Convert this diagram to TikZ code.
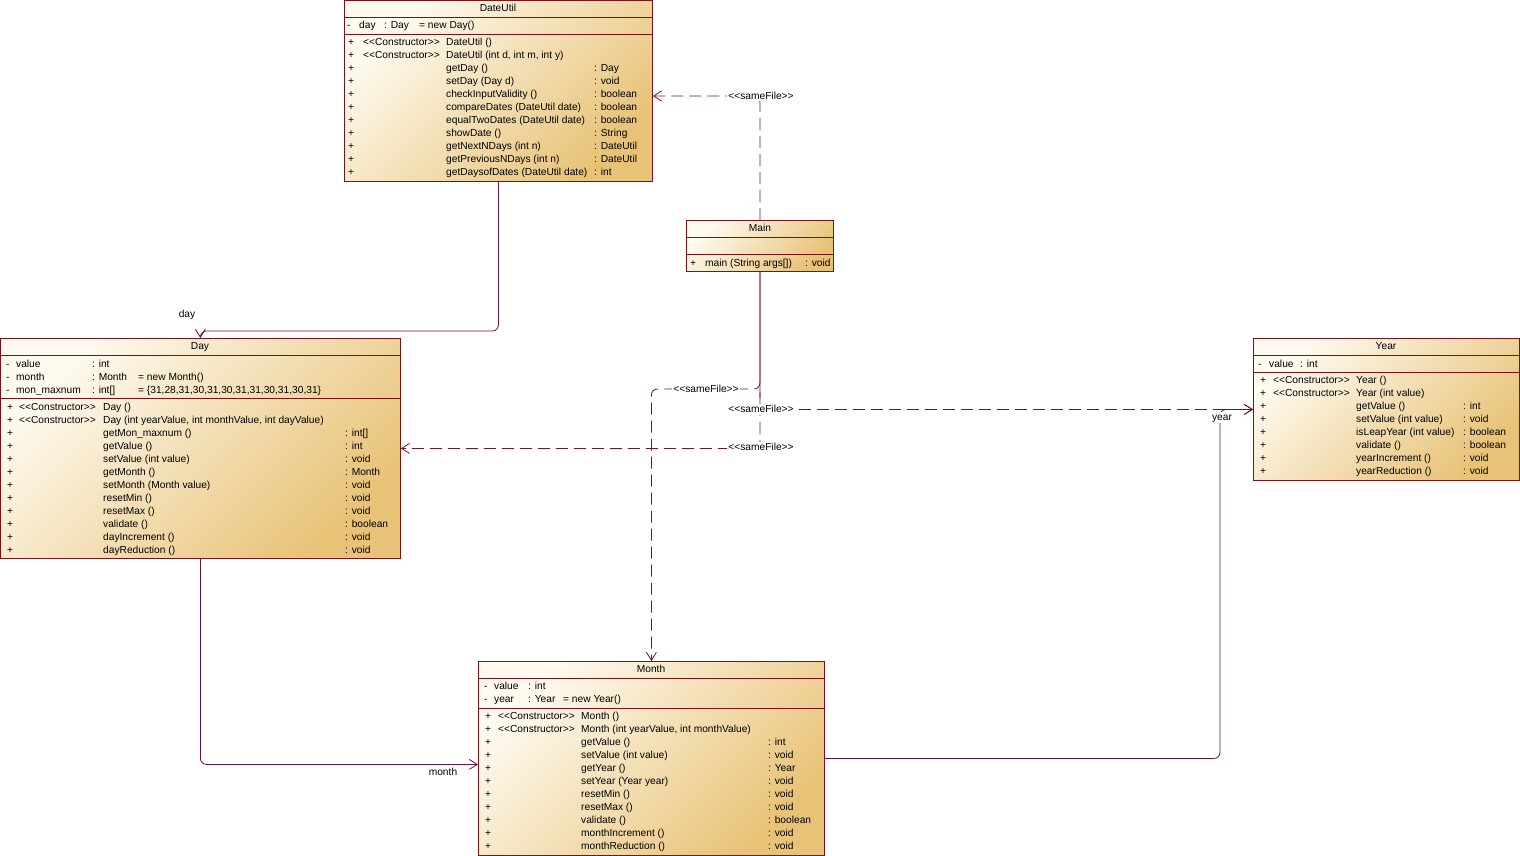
\documentclass[tikz,border=0pt]{standalone}
\usepackage{fontspec}
\setmainfont{Liberation Sans}
\usetikzlibrary{arrows.meta}
\definecolor{umlred}{RGB}{128,16,24}
\definecolor{umlline}{RGB}{112,16,64}
\definecolor{umllight}{RGB}{254,250,240}
\definecolor{umltan}{RGB}{232,194,118}
\newcommand{\ctor}{{<}{<}Constructor{>}{>}}
\newcommand{\samefile}{{<}{<}sameFile{>}{>}}

\begin{document}
\begin{tikzpicture}[x=1pt, y=-1pt, >={Straight Barb[length=8pt, width=10pt]},
    font=\fontsize{10.2}{12}\selectfont,
    classbox/.style={draw=umlred, line width=0.8pt, top color=umllight, bottom color=umltan,
      shading angle=45, anchor=north west, inner sep=0pt},
    txt/.style={anchor=west, inner sep=0pt, text height=8pt, text depth=1pt},
    title/.style={inner sep=0pt, text height=8pt, text depth=1pt},
    sep/.style={draw=umlred, line width=0.8pt},
    assoc/.style={draw=umlline, line width=0.8pt, ->, rounded corners=6pt},
    dep/.style={assoc, dash pattern=on 12pt off 6pt},
    lbl/.style={fill=white, inner sep=1pt, text height=8pt, text depth=1pt}]
  \useasboundingbox (0,0) rectangle (1520,856);

  % 类框
  \node[classbox, minimum width=308pt, minimum height=181pt] (dateutil) at (344,0) {};
  \node[classbox, minimum width=147pt, minimum height=51pt] (main) at (686,220) {};
  \node[classbox, minimum width=400pt, minimum height=220pt] (day) at (0,338) {};
  \node[classbox, minimum width=266pt, minimum height=142pt] (year) at (1253,338) {};
  \node[classbox, minimum width=346pt, minimum height=194pt] (month) at (478,661) {};

  % 分隔线
  \draw[sep] (344,17) -- (652,17);  \draw[sep] (344,34) -- (652,34);
  \draw[sep] (686,237) -- (833,237); \draw[sep] (686,254) -- (833,254);
  \draw[sep] (0,355) -- (400,355);   \draw[sep] (0,398) -- (400,398);
  \draw[sep] (1253,355) -- (1519,355); \draw[sep] (1253,372) -- (1519,372);
  \draw[sep] (478,678) -- (824,678); \draw[sep] (478,708) -- (824,708);

  % DateUtil
  \node[title] (dateutil-name) at (498,8) {DateUtil};
  \node[txt] (dateutil-a0) at (347,25) {-};
  \node[txt] (dateutil-n0) at (359,25) {day};
  \node[txt] (dateutil-t0) at (384,25) {: Day};
  \node[txt] (dateutil-v0) at (419,25) {= new Day()};
  \foreach \ster/\meth/\ret [count=\i from 0] in {
      \ctor/DateUtil ()/{},
      \ctor/{DateUtil (int d, int m, int y)}/{},
      {}/getDay ()/: Day,
      {}/setDay (Day d)/: void,
      {}/checkInputValidity ()/: boolean,
      {}/compareDates (DateUtil date)/: boolean,
      {}/equalTwoDates (DateUtil date)/: boolean,
      {}/showDate ()/: String,
      {}/getNextNDays (int n)/: DateUtil,
      {}/getPreviousNDays (int n)/: DateUtil,
      {}/getDaysofDates (DateUtil date)/: int} {
    \node[txt] (dateutil-p\i) at (348,{42+13*\i}) {+};
    \node[txt] (dateutil-s\i) at (363,{42+13*\i}) {\ster};
    \node[txt] (dateutil-m\i) at (446,{42+13*\i}) {\meth};
    \node[txt] (dateutil-r\i) at (594,{42+13*\i}) {\ret};
  }

  % Main
  \node[title] (main-name) at (760,228) {Main};
  \node[txt] (main-p0) at (690,263) {+};
  \node[txt] (main-m0) at (705,263) {main (String args[])};
  \node[txt] (main-r0) at (805,263) {: void};

  % Day
  \node[title] (day-name) at (200,346) {Day};
  \foreach \nm/\ty/\vl [count=\i from 0] in {
      value/: int/{},
      month/: Month/= new Month(),
      mon\_maxnum/: int[]/{= \{31,28,31,30,31,30,31,31,30,31,30,31\}}} {
    \node[txt] (day-a\i) at (6,{364+13*\i}) {-};
    \node[txt] (day-n\i) at (16,{364+13*\i}) {\nm};
    \node[txt] (day-t\i) at (92,{364+13*\i}) {\ty};
    \node[txt] (day-v\i) at (138,{364+13*\i}) {\vl};
  }
  \foreach \ster/\meth/\ret [count=\i from 0] in {
      \ctor/Day ()/{},
      \ctor/{Day (int yearValue, int monthValue, int dayValue)}/{},
      {}/getMon\_maxnum ()/: int[],
      {}/getValue ()/: int,
      {}/setValue (int value)/: void,
      {}/getMonth ()/: Month,
      {}/setMonth (Month value)/: void,
      {}/resetMin ()/: void,
      {}/resetMax ()/: void,
      {}/validate ()/: boolean,
      {}/dayIncrement ()/: void,
      {}/dayReduction ()/: void} {
    \node[txt] (day-p\i) at (7,{407+13*\i}) {+};
    \node[txt] (day-s\i) at (19,{407+13*\i}) {\ster};
    \node[txt] (day-m\i) at (103,{407+13*\i}) {\meth};
    \node[txt] (day-r\i) at (345,{407+13*\i}) {\ret};
  }

  % Year
  \node[title] (year-name) at (1386,346) {Year};
  \node[txt] (year-a0) at (1258,364) {-};
  \node[txt] (year-n0) at (1269,364) {value};
  \node[txt] (year-t0) at (1300,364) {: int};
  \foreach \ster/\meth/\ret [count=\i from 0] in {
      \ctor/Year ()/{},
      \ctor/Year (int value)/{},
      {}/getValue ()/: int,
      {}/setValue (int value)/: void,
      {}/isLeapYear (int value)/: boolean,
      {}/validate ()/: boolean,
      {}/yearIncrement ()/: void,
      {}/yearReduction ()/: void} {
    \node[txt] (year-p\i) at (1260,{380+13*\i}) {+};
    \node[txt] (year-s\i) at (1273,{380+13*\i}) {\ster};
    \node[txt] (year-m\i) at (1356,{380+13*\i}) {\meth};
    \node[txt] (year-r\i) at (1463,{380+13*\i}) {\ret};
  }

  % Month
  \node[title] (month-name) at (651,669) {Month};
  \foreach \nm/\ty/\vl [count=\i from 0] in {
      value/: int/{},
      year/: Year/= new Year()} {
    \node[txt] (month-a\i) at (484,{686+13*\i}) {-};
    \node[txt] (month-n\i) at (494,{686+13*\i}) {\nm};
    \node[txt] (month-t\i) at (528,{686+13*\i}) {\ty};
    \node[txt] (month-v\i) at (563,{686+13*\i}) {\vl};
  }
  \foreach \ster/\meth/\ret [count=\i from 0] in {
      \ctor/Month ()/{},
      \ctor/{Month (int yearValue, int monthValue)}/{},
      {}/getValue ()/: int,
      {}/setValue (int value)/: void,
      {}/getYear ()/: Year,
      {}/setYear (Year year)/: void,
      {}/resetMin ()/: void,
      {}/resetMax ()/: void,
      {}/validate ()/: boolean,
      {}/monthIncrement ()/: void,
      {}/monthReduction ()/: void} {
    \node[txt] (month-p\i) at (485,{716+13*\i}) {+};
    \node[txt] (month-s\i) at (498,{716+13*\i}) {\ster};
    \node[txt] (month-m\i) at (581,{716+13*\i}) {\meth};
    \node[txt] (month-r\i) at (768,{716+13*\i}) {\ret};
  }

  % 连线
  \coordinate (sf-dateutil-pos) at (761,96);
  \coordinate (sf-month-pos) at (706,389);
  \draw[dep] (main.north) |- (dateutil.east |- sf-dateutil-pos);
  \draw[dep] (main.south) |- (sf-month-pos) -| (month.north);
  \draw[dep, dash phase=6pt] (main.south) |- (year.west);
  \draw[dep, dash phase=12pt] (main.south) |- (day.east);
  \draw[assoc] (dateutil.south) |- ([yshift=7pt]day.north) -- (day.north);
  \draw[assoc] (day.south) |- ([yshift=-6pt]month.west);
  \draw[assoc] (month.east) -| ([xshift=-33pt]year.west) -- (year.west);

  % 标签
  \node[lbl] (sf-dateutil) at (sf-dateutil-pos) {\samefile};
  \node[lbl] (sf-month) at (sf-month-pos) {\samefile};
  \node[lbl] (sf-year) at (761,409) {\samefile};
  \node[lbl] (sf-day) at (761,447) {\samefile};
  \node[lbl] (role-day) at (187,314) {day};
  \node[lbl] (role-month) at (443,772) {month};
  \node[lbl] (role-year) at (1222,417) {year};
\end{tikzpicture}
\end{document}
